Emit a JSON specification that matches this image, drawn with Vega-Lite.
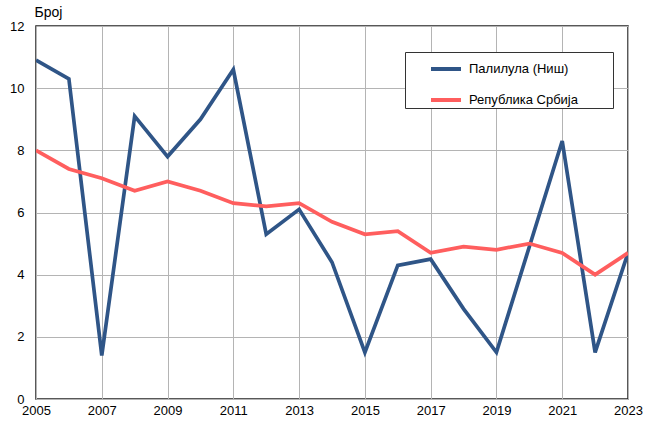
{
  "$schema": "https://vega.github.io/schema/vega-lite/v6.json",
  "width": 592,
  "height": 373,
  "autosize": {"type": "none"},
  "padding": {"left": 36, "top": 26, "right": 22, "bottom": 29},
  "background": "white",
  "config": {
    "font": "Liberation Sans",
    "view": {"stroke": "#222", "strokeWidth": 1.5},
    "axis": {"grid": true, "gridColor": "#b4b4b4", "gridWidth": 1, "domain": false, "ticks": false, "tickSize": 0, "labelFontSize": 13, "labelColor": "#000", "labelFont": "Liberation Sans"}
  },
  "data": {
    "values": [
      {"year": 2005, "series": "Палилула (Ниш)", "value": 10.9},
      {"year": 2006, "series": "Палилула (Ниш)", "value": 10.3},
      {"year": 2007, "series": "Палилула (Ниш)", "value": 1.4},
      {"year": 2008, "series": "Палилула (Ниш)", "value": 9.1},
      {"year": 2009, "series": "Палилула (Ниш)", "value": 7.8},
      {"year": 2010, "series": "Палилула (Ниш)", "value": 9.0},
      {"year": 2011, "series": "Палилула (Ниш)", "value": 10.6},
      {"year": 2012, "series": "Палилула (Ниш)", "value": 5.3},
      {"year": 2013, "series": "Палилула (Ниш)", "value": 6.1},
      {"year": 2014, "series": "Палилула (Ниш)", "value": 4.4},
      {"year": 2015, "series": "Палилула (Ниш)", "value": 1.5},
      {"year": 2016, "series": "Палилула (Ниш)", "value": 4.3},
      {"year": 2017, "series": "Палилула (Ниш)", "value": 4.5},
      {"year": 2018, "series": "Палилула (Ниш)", "value": 2.9},
      {"year": 2019, "series": "Палилула (Ниш)", "value": 1.5},
      {"year": 2020, "series": "Палилула (Ниш)", "value": 4.9},
      {"year": 2021, "series": "Палилула (Ниш)", "value": 8.3},
      {"year": 2022, "series": "Палилула (Ниш)", "value": 1.5},
      {"year": 2023, "series": "Палилула (Ниш)", "value": 4.7},
      {"year": 2005, "series": "Република Србија", "value": 8.0},
      {"year": 2006, "series": "Република Србија", "value": 7.4},
      {"year": 2007, "series": "Република Србија", "value": 7.1},
      {"year": 2008, "series": "Република Србија", "value": 6.7},
      {"year": 2009, "series": "Република Србија", "value": 7.0},
      {"year": 2010, "series": "Република Србија", "value": 6.7},
      {"year": 2011, "series": "Република Србија", "value": 6.3},
      {"year": 2012, "series": "Република Србија", "value": 6.2},
      {"year": 2013, "series": "Република Србија", "value": 6.3},
      {"year": 2014, "series": "Република Србија", "value": 5.7},
      {"year": 2015, "series": "Република Србија", "value": 5.3},
      {"year": 2016, "series": "Република Србија", "value": 5.4},
      {"year": 2017, "series": "Република Србија", "value": 4.7},
      {"year": 2018, "series": "Република Србија", "value": 4.9},
      {"year": 2019, "series": "Република Србија", "value": 4.8},
      {"year": 2020, "series": "Република Србија", "value": 5.0},
      {"year": 2021, "series": "Република Србија", "value": 4.7},
      {"year": 2022, "series": "Република Србија", "value": 4.0},
      {"year": 2023, "series": "Република Србија", "value": 4.7}
    ]
  },
  "mark": {"type": "line", "strokeWidth": 3.7, "strokeJoin": "miter", "clip": true},
  "encoding": {
    "x": {
      "field": "year", "type": "quantitative",
      "scale": {"domain": [2005, 2023], "nice": false, "zero": false},
      "axis": {"values": [2005, 2007, 2009, 2011, 2013, 2015, 2017, 2019, 2021, 2023], "format": "d", "title": null, "labelPadding": 5, "labelFlush": false}
    },
    "y": {
      "field": "value", "type": "quantitative",
      "scale": {"domain": [0, 12], "nice": false},
      "axis": {"values": [0, 2, 4, 6, 8, 10, 12], "title": "Број", "titleAngle": 0, "titleAlign": "left", "titleBaseline": "middle", "titleX": -2, "titleY": -14, "titleFontSize": 14, "titleFontWeight": "normal", "titleColor": "#000", "labelPadding": 12}
    },
    "color": {
      "field": "series", "type": "nominal",
      "scale": {"domain": ["Палилула (Ниш)", "Република Србија"], "range": ["#2f5587", "#ff5e5e"]},
      "legend": {
        "title": "\u00a0", "titleOrient": "right", "titlePadding": 35, "titleFontSize": 11,
        "orient": "none", "legendX": 369, "legendY": 26,
        "symbolType": "stroke", "symbolSize": 900, "symbolStrokeWidth": 4,
        "symbolOffset": 24, "labelOffset": 6, "rowPadding": 6, "padding": 0,
        "labelFontSize": 13, "labelColor": "#000", "labelFont": "Liberation Sans",
        "strokeColor": "#333", "fillColor": "white", "labelLimit": 300
      }
    }
  }
}
